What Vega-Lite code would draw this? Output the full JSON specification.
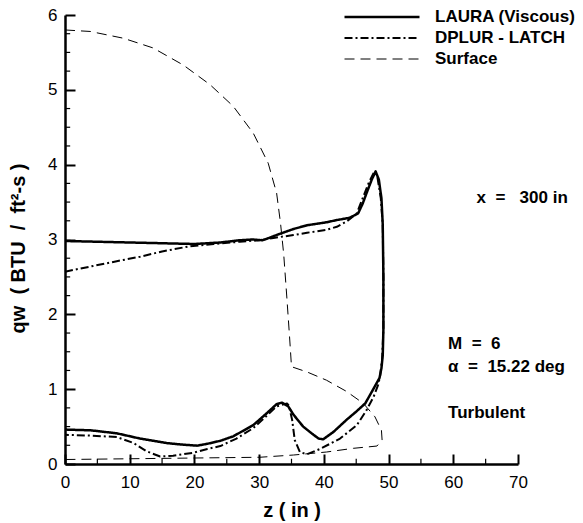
{
  "$schema": "https://vega.github.io/schema/vega-lite/v6.json",
  "width": 453,
  "height": 449,
  "autosize": {"type": "none"},
  "padding": {"left": 65, "top": 15, "right": 65, "bottom": 59},
  "background": "white",
  "config": {"view": {"stroke": null}, "font": "Liberation Sans"},
  "layer": [
    {
      "data": {"values": [
        {"s": "LAURA (Viscous)", "i": 0, "z": 0, "q": 2.98},
        {"s": "LAURA (Viscous)", "i": 1, "z": 5, "q": 2.97},
        {"s": "LAURA (Viscous)", "i": 2, "z": 10, "q": 2.96},
        {"s": "LAURA (Viscous)", "i": 3, "z": 15, "q": 2.95},
        {"s": "LAURA (Viscous)", "i": 4, "z": 20, "q": 2.94},
        {"s": "LAURA (Viscous)", "i": 5, "z": 24, "q": 2.96},
        {"s": "LAURA (Viscous)", "i": 6, "z": 27, "q": 2.99},
        {"s": "LAURA (Viscous)", "i": 7, "z": 29, "q": 3.0},
        {"s": "LAURA (Viscous)", "i": 8, "z": 30.5, "q": 2.99},
        {"s": "LAURA (Viscous)", "i": 9, "z": 31.5, "q": 3.02},
        {"s": "LAURA (Viscous)", "i": 10, "z": 33, "q": 3.07},
        {"s": "LAURA (Viscous)", "i": 11, "z": 35.3, "q": 3.14},
        {"s": "LAURA (Viscous)", "i": 12, "z": 37.4, "q": 3.19},
        {"s": "LAURA (Viscous)", "i": 13, "z": 40.4, "q": 3.23},
        {"s": "LAURA (Viscous)", "i": 14, "z": 42, "q": 3.26},
        {"s": "LAURA (Viscous)", "i": 15, "z": 44, "q": 3.29},
        {"s": "LAURA (Viscous)", "i": 16, "z": 45.3, "q": 3.35},
        {"s": "LAURA (Viscous)", "i": 17, "z": 46, "q": 3.48},
        {"s": "LAURA (Viscous)", "i": 18, "z": 46.6, "q": 3.62},
        {"s": "LAURA (Viscous)", "i": 19, "z": 47.4, "q": 3.8},
        {"s": "LAURA (Viscous)", "i": 20, "z": 48, "q": 3.91},
        {"s": "LAURA (Viscous)", "i": 21, "z": 48.5, "q": 3.8},
        {"s": "LAURA (Viscous)", "i": 22, "z": 48.9, "q": 3.55},
        {"s": "LAURA (Viscous)", "i": 23, "z": 49.1, "q": 3.2},
        {"s": "LAURA (Viscous)", "i": 24, "z": 49.2, "q": 2.5},
        {"s": "LAURA (Viscous)", "i": 25, "z": 49.2, "q": 1.8},
        {"s": "LAURA (Viscous)", "i": 26, "z": 49.1, "q": 1.45},
        {"s": "LAURA (Viscous)", "i": 27, "z": 48.9, "q": 1.28},
        {"s": "LAURA (Viscous)", "i": 28, "z": 48.6, "q": 1.15},
        {"s": "LAURA (Viscous)", "i": 29, "z": 47.7, "q": 1.01},
        {"s": "LAURA (Viscous)", "i": 30, "z": 46.4, "q": 0.81},
        {"s": "LAURA (Viscous)", "i": 31, "z": 45, "q": 0.7},
        {"s": "LAURA (Viscous)", "i": 32, "z": 43.5, "q": 0.59},
        {"s": "LAURA (Viscous)", "i": 33, "z": 41.5, "q": 0.43},
        {"s": "LAURA (Viscous)", "i": 34, "z": 39.9, "q": 0.33},
        {"s": "LAURA (Viscous)", "i": 35, "z": 39.2, "q": 0.34},
        {"s": "LAURA (Viscous)", "i": 36, "z": 38.4, "q": 0.39},
        {"s": "LAURA (Viscous)", "i": 37, "z": 36.8, "q": 0.5},
        {"s": "LAURA (Viscous)", "i": 38, "z": 35.3, "q": 0.66},
        {"s": "LAURA (Viscous)", "i": 39, "z": 34.5, "q": 0.77},
        {"s": "LAURA (Viscous)", "i": 40, "z": 33.5, "q": 0.82},
        {"s": "LAURA (Viscous)", "i": 41, "z": 32.7, "q": 0.8},
        {"s": "LAURA (Viscous)", "i": 42, "z": 31.2, "q": 0.68},
        {"s": "LAURA (Viscous)", "i": 43, "z": 29.1, "q": 0.52},
        {"s": "LAURA (Viscous)", "i": 44, "z": 26, "q": 0.37},
        {"s": "LAURA (Viscous)", "i": 45, "z": 24, "q": 0.31},
        {"s": "LAURA (Viscous)", "i": 46, "z": 22, "q": 0.27},
        {"s": "LAURA (Viscous)", "i": 47, "z": 20.4, "q": 0.245},
        {"s": "LAURA (Viscous)", "i": 48, "z": 18, "q": 0.26},
        {"s": "LAURA (Viscous)", "i": 49, "z": 15.7, "q": 0.28},
        {"s": "LAURA (Viscous)", "i": 50, "z": 11.6, "q": 0.34},
        {"s": "LAURA (Viscous)", "i": 51, "z": 8, "q": 0.41},
        {"s": "LAURA (Viscous)", "i": 52, "z": 4, "q": 0.45},
        {"s": "LAURA (Viscous)", "i": 53, "z": 0, "q": 0.46},
        {"s": "DPLUR - LATCH", "i": 0, "z": 0, "q": 2.57},
        {"s": "DPLUR - LATCH", "i": 1, "z": 4, "q": 2.64},
        {"s": "DPLUR - LATCH", "i": 2, "z": 8, "q": 2.71},
        {"s": "DPLUR - LATCH", "i": 3, "z": 11.6, "q": 2.77},
        {"s": "DPLUR - LATCH", "i": 4, "z": 15, "q": 2.84},
        {"s": "DPLUR - LATCH", "i": 5, "z": 19.3, "q": 2.91},
        {"s": "DPLUR - LATCH", "i": 6, "z": 23, "q": 2.94},
        {"s": "DPLUR - LATCH", "i": 7, "z": 27, "q": 2.97},
        {"s": "DPLUR - LATCH", "i": 8, "z": 30, "q": 2.99},
        {"s": "DPLUR - LATCH", "i": 9, "z": 32.2, "q": 3.02},
        {"s": "DPLUR - LATCH", "i": 10, "z": 35.3, "q": 3.06},
        {"s": "DPLUR - LATCH", "i": 11, "z": 37.4, "q": 3.09},
        {"s": "DPLUR - LATCH", "i": 12, "z": 40.4, "q": 3.13},
        {"s": "DPLUR - LATCH", "i": 13, "z": 42, "q": 3.17},
        {"s": "DPLUR - LATCH", "i": 14, "z": 43.5, "q": 3.24},
        {"s": "DPLUR - LATCH", "i": 15, "z": 45.1, "q": 3.35},
        {"s": "DPLUR - LATCH", "i": 16, "z": 45.9, "q": 3.53},
        {"s": "DPLUR - LATCH", "i": 17, "z": 46.9, "q": 3.75},
        {"s": "DPLUR - LATCH", "i": 18, "z": 47.8, "q": 3.91},
        {"s": "DPLUR - LATCH", "i": 19, "z": 48.3, "q": 3.82},
        {"s": "DPLUR - LATCH", "i": 20, "z": 48.8, "q": 3.55},
        {"s": "DPLUR - LATCH", "i": 21, "z": 49.1, "q": 3.2},
        {"s": "DPLUR - LATCH", "i": 22, "z": 49.2, "q": 2.5},
        {"s": "DPLUR - LATCH", "i": 23, "z": 49.2, "q": 1.8},
        {"s": "DPLUR - LATCH", "i": 24, "z": 49.0, "q": 1.4},
        {"s": "DPLUR - LATCH", "i": 25, "z": 48.7, "q": 1.18},
        {"s": "DPLUR - LATCH", "i": 26, "z": 48.4, "q": 1.06},
        {"s": "DPLUR - LATCH", "i": 27, "z": 47.7, "q": 0.9},
        {"s": "DPLUR - LATCH", "i": 28, "z": 46.6, "q": 0.72},
        {"s": "DPLUR - LATCH", "i": 29, "z": 45.1, "q": 0.52},
        {"s": "DPLUR - LATCH", "i": 30, "z": 42.5, "q": 0.34},
        {"s": "DPLUR - LATCH", "i": 31, "z": 39.4, "q": 0.2},
        {"s": "DPLUR - LATCH", "i": 32, "z": 37.4, "q": 0.13},
        {"s": "DPLUR - LATCH", "i": 33, "z": 36.3, "q": 0.16},
        {"s": "DPLUR - LATCH", "i": 34, "z": 35.5, "q": 0.32},
        {"s": "DPLUR - LATCH", "i": 35, "z": 35.1, "q": 0.59},
        {"s": "DPLUR - LATCH", "i": 36, "z": 34.6, "q": 0.78},
        {"s": "DPLUR - LATCH", "i": 37, "z": 34.3, "q": 0.81},
        {"s": "DPLUR - LATCH", "i": 38, "z": 32.7, "q": 0.77},
        {"s": "DPLUR - LATCH", "i": 39, "z": 31, "q": 0.63},
        {"s": "DPLUR - LATCH", "i": 40, "z": 29.1, "q": 0.48},
        {"s": "DPLUR - LATCH", "i": 41, "z": 26.5, "q": 0.34},
        {"s": "DPLUR - LATCH", "i": 42, "z": 24, "q": 0.24},
        {"s": "DPLUR - LATCH", "i": 43, "z": 22, "q": 0.2},
        {"s": "DPLUR - LATCH", "i": 44, "z": 19.8, "q": 0.15},
        {"s": "DPLUR - LATCH", "i": 45, "z": 16.7, "q": 0.11},
        {"s": "DPLUR - LATCH", "i": 46, "z": 14.7, "q": 0.1},
        {"s": "DPLUR - LATCH", "i": 47, "z": 12.6, "q": 0.17},
        {"s": "DPLUR - LATCH", "i": 48, "z": 10.6, "q": 0.28},
        {"s": "DPLUR - LATCH", "i": 49, "z": 8, "q": 0.36},
        {"s": "DPLUR - LATCH", "i": 50, "z": 4, "q": 0.38},
        {"s": "DPLUR - LATCH", "i": 51, "z": 0, "q": 0.39},
        {"s": "Surface", "i": 0, "z": 0, "q": 5.8},
        {"s": "Surface", "i": 1, "z": 3.9, "q": 5.78},
        {"s": "Surface", "i": 2, "z": 9, "q": 5.69},
        {"s": "Surface", "i": 3, "z": 13.6, "q": 5.56},
        {"s": "Surface", "i": 4, "z": 18.3, "q": 5.33},
        {"s": "Surface", "i": 5, "z": 22.4, "q": 5.07},
        {"s": "Surface", "i": 6, "z": 26, "q": 4.78},
        {"s": "Surface", "i": 7, "z": 29.1, "q": 4.42},
        {"s": "Surface", "i": 8, "z": 31.4, "q": 4.02},
        {"s": "Surface", "i": 9, "z": 32.7, "q": 3.62},
        {"s": "Surface", "i": 10, "z": 33.3, "q": 3.22},
        {"s": "Surface", "i": 11, "z": 33.8, "q": 2.8},
        {"s": "Surface", "i": 12, "z": 34.3, "q": 2.2},
        {"s": "Surface", "i": 13, "z": 34.7, "q": 1.7},
        {"s": "Surface", "i": 14, "z": 35.0, "q": 1.3},
        {"s": "Surface", "i": 15, "z": 37.4, "q": 1.23},
        {"s": "Surface", "i": 16, "z": 40.4, "q": 1.12},
        {"s": "Surface", "i": 17, "z": 43.5, "q": 0.97},
        {"s": "Surface", "i": 18, "z": 46.1, "q": 0.81},
        {"s": "Surface", "i": 19, "z": 47.9, "q": 0.63},
        {"s": "Surface", "i": 20, "z": 48.9, "q": 0.45},
        {"s": "Surface", "i": 21, "z": 49.0, "q": 0.32},
        {"s": "Surface", "i": 22, "z": 48.2, "q": 0.24},
        {"s": "Surface", "i": 23, "z": 44.6, "q": 0.21},
        {"s": "Surface", "i": 24, "z": 40.4, "q": 0.16},
        {"s": "Surface", "i": 25, "z": 35.3, "q": 0.12},
        {"s": "Surface", "i": 26, "z": 30.1, "q": 0.09},
        {"s": "Surface", "i": 27, "z": 20, "q": 0.08},
        {"s": "Surface", "i": 28, "z": 10, "q": 0.07},
        {"s": "Surface", "i": 29, "z": 0, "q": 0.06}
      ]},
      "mark": {"type": "line", "color": "black", "strokeJoin": "round", "strokeCap": "butt"},
      "encoding": {
        "x": {
          "field": "z", "type": "quantitative",
          "scale": {"domain": [0, 70], "nice": false, "zero": false},
          "axis": {
            "orient": "bottom", "values": [0, 10, 20, 30, 40, 50, 60, 70], "format": "d",
            "grid": false, "ticks": true, "tickSize": -10, "tickWidth": 2, "tickColor": "black",
            "domainColor": "black", "domainWidth": 2.5,
            "labelFont": "Liberation Sans", "labelFontSize": 17, "labelColor": "black",
            "labelPadding": 20, "labelFlush": false, "labelOverlap": false, "labelBound": false,
            "title": "z ( in )", "titleFont": "Liberation Sans", "titleFontSize": 20,
            "titleFontWeight": "bold", "titleColor": "black",
            "titleX": 226.5, "titleY": 46, "titleAlign": "center", "titleBaseline": "middle"
          }
        },
        "y": {
          "field": "q", "type": "quantitative",
          "scale": {"domain": [0, 6], "nice": false, "zero": false},
          "axis": {
            "orient": "left", "values": [0, 1, 2, 3, 4, 5, 6], "format": "d",
            "grid": false, "ticks": true, "tickSize": -10, "tickWidth": 2, "tickColor": "black",
            "domainColor": "black", "domainWidth": 2.5,
            "labelFont": "Liberation Sans", "labelFontSize": 17, "labelColor": "black",
            "labelPadding": 18, "labelFlush": false, "labelOverlap": false, "labelBound": false,
            "title": "qw\u00a0\u00a0(\u00a0BTU\u00a0\u00a0/\u00a0\u00a0ft²-s\u00a0)", "titleFont": "Liberation Sans", "titleFontSize": 20,
            "titleFontWeight": "bold", "titleColor": "black",
            "titleX": -47, "titleY": 233, "titleAngle": -90, "titleAlign": "center", "titleBaseline": "middle"
          }
        },
        "order": {"field": "i", "type": "quantitative"},
        "strokeDash": {
          "field": "s", "type": "nominal",
          "scale": {"domain": ["LAURA (Viscous)", "DPLUR - LATCH", "Surface"], "range": [[1, 0], [8, 3, 2, 3], [10, 6]]},
          "legend": {
            "title": null, "orient": "none", "legendX": 278, "legendY": -8.5,
            "symbolType": "stroke", "symbolSize": 5625, "symbolStrokeColor": "black", "symbolStrokeWidth": 2,
            "labelFont": "Liberation Sans", "labelFontSize": 17, "labelFontWeight": "bold", "labelColor": "black",
            "labelOffset": 14, "labelLimit": 300, "clipHeight": 21, "rowPadding": 0, "padding": 0
          }
        },
        "strokeWidth": {
          "field": "s", "type": "nominal",
          "scale": {"type": "ordinal", "domain": ["LAURA (Viscous)", "DPLUR - LATCH", "Surface"], "range": [2.5, 2, 1]},
          "legend": null
        }
      }
    },
    {
      "data": {"values": [{"v": 5}, {"v": 15}, {"v": 25}, {"v": 35}, {"v": 45}, {"v": 55}, {"v": 65}]},
      "mark": {"type": "rule", "color": "black", "strokeWidth": 1.2},
      "encoding": {
        "x": {"field": "v", "type": "quantitative"},
        "y": {"datum": 0, "type": "quantitative"},
        "y2": {"datum": 0.07}
      }
    },
    {
      "data": {"values": [
        {"v": 0.25}, {"v": 0.5}, {"v": 0.75}, {"v": 1.25}, {"v": 1.5}, {"v": 1.75},
        {"v": 2.25}, {"v": 2.5}, {"v": 2.75}, {"v": 3.25}, {"v": 3.5}, {"v": 3.75},
        {"v": 4.25}, {"v": 4.5}, {"v": 4.75}, {"v": 5.25}, {"v": 5.5}, {"v": 5.75}
      ]},
      "mark": {"type": "rule", "color": "black", "strokeWidth": 1.2},
      "encoding": {
        "y": {"field": "v", "type": "quantitative"},
        "x": {"datum": 0, "type": "quantitative"},
        "x2": {"datum": 0.8}
      }
    },
    {
      "data": {"values": [
        {"t": "x\u00a0\u00a0=\u00a0\u00a0\u00a0300\u00a0in", "z": 63.6, "q": 3.55},
        {"t": "M\u00a0\u00a0=\u00a0\u00a06", "z": 59.2, "q": 1.61},
        {"t": "α\u00a0\u00a0=\u00a0\u00a015.22\u00a0deg", "z": 59.2, "q": 1.3},
        {"t": "Turbulent", "z": 59.2, "q": 0.68}
      ]},
      "mark": {"type": "text", "align": "left", "baseline": "middle", "font": "Liberation Sans", "fontSize": 17, "fontWeight": "bold", "color": "black"},
      "encoding": {
        "x": {"field": "z", "type": "quantitative"},
        "y": {"field": "q", "type": "quantitative"},
        "text": {"field": "t", "type": "nominal"}
      }
    }
  ]
}
